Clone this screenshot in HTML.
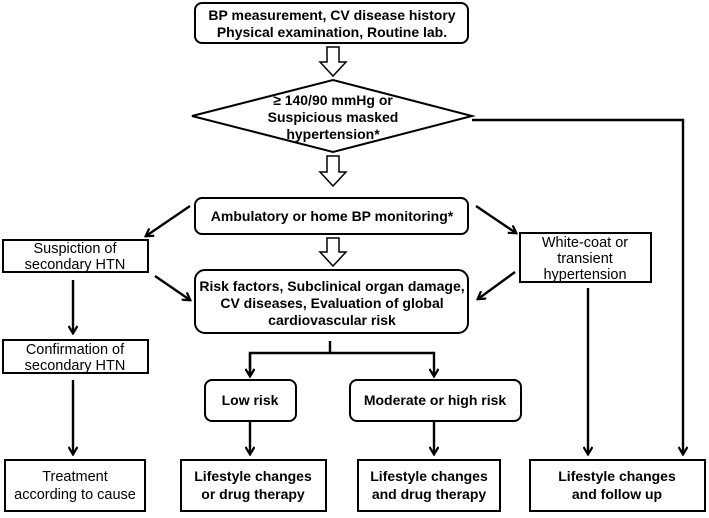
<!DOCTYPE html>
<html><head><meta charset="utf-8"><style>
html,body{margin:0;padding:0;background:#fff;}
svg text{font-family:"Liberation Sans",sans-serif;fill:#000;}
.b{font-weight:bold;font-size:14px;}
.n{font-size:14.5px;}
</style></head><body>
<svg width="709" height="513" viewBox="0 0 709 513" xmlns="http://www.w3.org/2000/svg">
<defs>
<marker id="ah" markerWidth="10" markerHeight="10" refX="8" refY="5" orient="auto" markerUnits="userSpaceOnUse">
<path d="M1,0.5 L8.5,5 L1,9.5" fill="none" stroke="#000" stroke-width="2.2"/>
</marker>
</defs>
<g fill="#fff" stroke="#000" stroke-width="2">
<rect x="195" y="3" width="273" height="40" rx="7"/>
<polygon points="192,116 333,80 472,116 333,152"/>
<rect x="195" y="198" width="273" height="36" rx="7"/>
<rect x="195" y="270" width="273" height="63" rx="10"/>
<rect x="3" y="240" width="145" height="32"/>
<rect x="3" y="340" width="145" height="33"/>
<rect x="520" y="233" width="131" height="49"/>
<rect x="205" y="380" width="91" height="41" rx="7"/>
<rect x="350" y="380" width="171" height="41" rx="7"/>
<rect x="5" y="460" width="140" height="51"/>
<rect x="181" y="460" width="145" height="51"/>
<rect x="358" y="460" width="142" height="51"/>
<rect x="530" y="460" width="175" height="51"/>
</g>
<g fill="#fff" stroke="#000" stroke-width="1.5">
<path d="M327,47 H339 V62 H346 L333,76 L320,62 H327 Z"/>
<path d="M327,156 H339 V172 H346 L333,186 L320,172 H327 Z"/>
<path d="M327,238 H339 V252 H346 L333,266 L320,252 H327 Z"/>
</g>
<g stroke="#000" stroke-width="2.4" fill="none">
<polyline points="472,120 683,120 683,454" marker-end="url(#ah)"/>
<line x1="190" y1="206" x2="146" y2="236" marker-end="url(#ah)"/>
<line x1="476" y1="206" x2="516" y2="233" marker-end="url(#ah)"/>
<line x1="155" y1="276" x2="190" y2="300" marker-end="url(#ah)"/>
<line x1="515" y1="272" x2="478" y2="299" marker-end="url(#ah)"/>
<line x1="73" y1="280" x2="73" y2="333" marker-end="url(#ah)"/>
<line x1="73" y1="380" x2="73" y2="454" marker-end="url(#ah)"/>
<line x1="588" y1="288" x2="588" y2="454" marker-end="url(#ah)"/>
<line x1="330" y1="341" x2="330" y2="353"/>
<polyline points="250,376 250,353 434,353 434,376" marker-end="url(#ah)"/>
<line x1="250" y1="353" x2="250" y2="376" marker-end="url(#ah)"/>
<line x1="250" y1="421" x2="250" y2="454" marker-end="url(#ah)"/>
<line x1="434" y1="421" x2="434" y2="454" marker-end="url(#ah)"/>
</g>
<g text-anchor="middle">
<text class="b" x="332" y="20">BP measurement, CV disease history</text>
<text class="b" x="332" y="37">Physical examination, Routine lab.</text>
<text class="b" x="333" y="105">≥ 140/90 mmHg or</text>
<text class="b" x="333" y="122">Suspicious masked</text>
<text class="b" x="333" y="139">hypertension*</text>
<text class="b" x="332" y="221">Ambulatory or home BP monitoring*</text>
<text class="b" x="332" y="291">Risk factors, Subclinical organ damage,</text>
<text class="b" x="332" y="308">CV diseases, Evaluation of global</text>
<text class="b" x="332" y="325">cardiovascular risk</text>
<text class="n" x="75" y="253">Suspiction of</text>
<text class="n" x="75" y="269">secondary HTN</text>
<text class="n" x="75" y="354">Confirmation of</text>
<text class="n" x="75" y="370">secondary HTN</text>
<text class="n" x="585" y="247">White-coat or</text>
<text class="n" x="585" y="263">transient</text>
<text class="n" x="585" y="279">hypertension</text>
<text class="b" x="250" y="405">Low risk</text>
<text class="b" x="435" y="405">Moderate or high risk</text>
<text class="n" x="75" y="481">Treatment</text>
<text class="n" x="75" y="499">according to cause</text>
<text class="b" x="253" y="481">Lifestyle changes</text>
<text class="b" x="253" y="499">or drug therapy</text>
<text class="b" x="429" y="481">Lifestyle changes</text>
<text class="b" x="429" y="499">and drug therapy</text>
<text class="b" x="617" y="481">Lifestyle changes</text>
<text class="b" x="617" y="499">and follow up</text>
</g>
</svg>
</body></html>
